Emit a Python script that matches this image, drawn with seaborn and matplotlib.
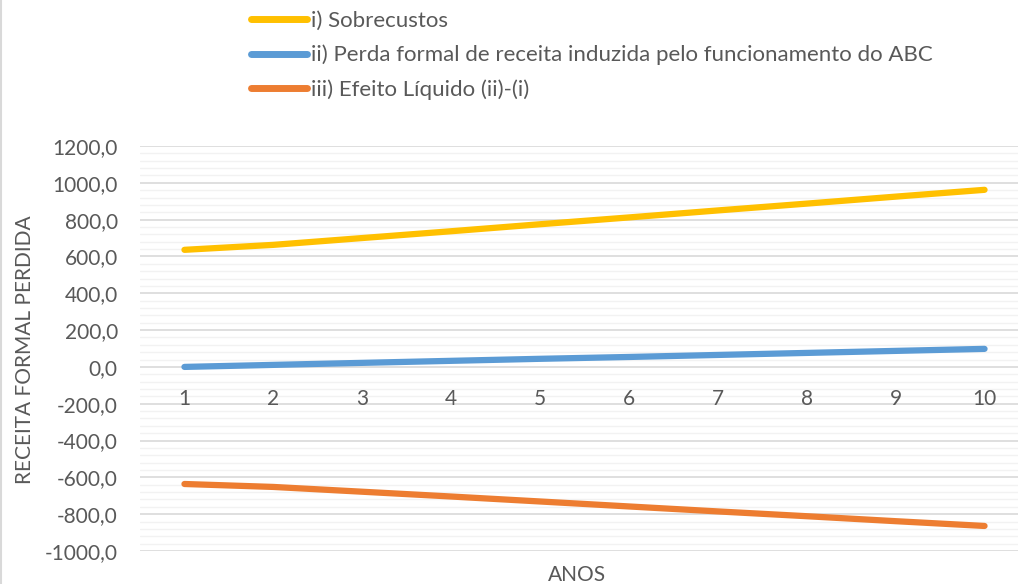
import pandas as pd
import matplotlib.pyplot as plt
import seaborn as sns
from matplotlib.ticker import MultipleLocator, FuncFormatter
from matplotlib.lines import Line2D

anos = [1, 2, 3, 4, 5, 6, 7, 8, 9, 10]
sobrecustos = [636, 663, 700, 737, 775, 812, 850, 887, 925, 962]
perda_formal = [0, 11, 22, 33, 44, 54, 65, 76, 87, 98]
efeito_liquido = [-636, -652, -678, -704, -731, -758, -785, -811, -838, -864]

series_names = [
    "i) Sobrecustos",
    "ii) Perda formal de receita induzida pelo funcionamento do ABC",
    "iii) Efeito Líquido (ii)-(i)",
]
colors = ["#FFC000", "#5B9BD5", "#ED7D31"]

df = pd.DataFrame({
    "ANOS": anos * 3,
    "valor": sobrecustos + perda_formal + efeito_liquido,
    "serie": [series_names[0]] * 10 + [series_names[1]] * 10 + [series_names[2]] * 10,
})

sns.set_style("white")
plt.rcParams["font.family"] = ["Lato", "DejaVu Sans"]
txt = "#595959"

fig = plt.figure(figsize=(10.18, 5.84), dpi=100)
ax = fig.add_axes([140 / 1018, 1 - 551 / 584, 889 / 1018, 405 / 584])

sns.lineplot(data=df, x="ANOS", y="valor", hue="serie", palette=colors,
             linewidth=4.5, ax=ax, legend=False, solid_capstyle="round")

ax.set_xlim(0.5, 10.5)
ax.set_ylim(-1000, 1200)
ax.yaxis.set_major_locator(MultipleLocator(200))
ax.yaxis.set_minor_locator(MultipleLocator(40))
ax.yaxis.set_major_formatter(FuncFormatter(lambda v, p: f"{v:.1f}".replace(".", ",")))
ax.grid(True, which="major", axis="y", color="#d9d9d9", linewidth=1.2, zorder=0)
ax.grid(True, which="minor", axis="y", color="#f2f2f2", linewidth=1.0, zorder=0)
ax.set_axisbelow(True)

ax.set_xticks(anos)
ax.spines["bottom"].set_position(("data", 0))
for s in ax.spines.values():
    s.set_visible(False)
ax.xaxis.set_zorder(3)
ax.tick_params(axis="x", length=0, pad=16, labelsize=15, labelcolor=txt)
ax.tick_params(axis="y", which="both", length=0, pad=16, labelsize=15, labelcolor=txt)

ax.set_xlabel("ANOS", fontsize=15, color=txt)
ax.xaxis.set_label_coords(0.4916, -0.035)
ax.set_ylabel("RECEITA FORMAL PERDIDA", fontsize=15, color=txt)
ax.yaxis.set_label_coords(-0.118, 0.496)

handles = [Line2D([0], [0], color=c, linewidth=5, solid_capstyle="round") for c in colors]
fig.legend(handles, series_names, loc="upper left", bbox_to_anchor=(231 / 1018, 1 + 9 / 584),
           frameon=False, fontsize=16, labelcolor=txt, handlelength=2.5,
           handletextpad=0.2, labelspacing=0.62)

fig.add_artist(Line2D([0.0005, 0.0005], [0, 1], color="#d9d9d9", linewidth=1.5,
                      transform=fig.transFigure))

plt.savefig("out.png", dpi=100)
